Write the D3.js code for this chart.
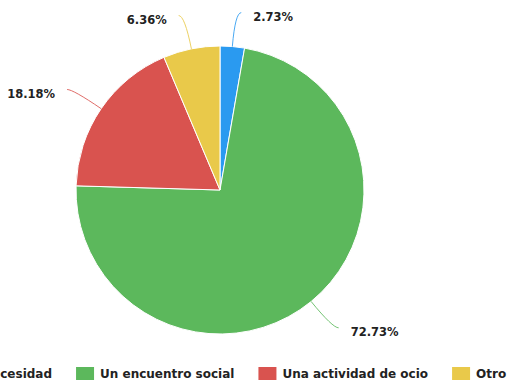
<!DOCTYPE html>
<html>
<head>
<meta charset="utf-8">
<script src="https://cdn.jsdelivr.net/npm/d3@7/dist/d3.min.js"></script>
<style>
  html, body { margin: 0; padding: 0; background: #fff; }
  svg { display: block; }
  text { font-family: "DejaVu Sans", Verdana, sans-serif; font-weight: bold; fill: #222; }
</style>
</head>
<body>
<svg id="chart" width="507" height="385"></svg>
<script>
// Answers and their share of responses (percent)
const categories = ["Una necesidad", "Un encuentro social", "Una actividad de ocio", "Otro:"];
const shares = [2.73, 72.73, 18.18, 6.36];
const colors = ["#2a9af0", "#5cb85c", "#d9534f", "#e9c94a"];

const W = 507, H = 385;
const cx = 220, cy = 190, radius = 144;

const svg = d3.select("#chart");

const data = categories.map((c, i) => ({ name: c, value: shares[i], color: colors[i] }));

const pie = d3.pie().value(d => d.value).sort(null);
const arcs = pie(data);
const arc = d3.arc().innerRadius(0).outerRadius(radius);

const g = svg.append("g").attr("transform", `translate(${cx},${cy})`);

g.selectAll("path.slice")
  .data(arcs)
  .join("path")
  .attr("class", "slice")
  .attr("d", arc)
  .attr("fill", d => d.data.color)
  .attr("stroke", "#fff")
  .attr("stroke-width", 1);

// Leader lines: radial segment then a short horizontal tail, smoothed
const lineOut = 34, tail = 6, textGap = 12;
arcs.forEach(d => {
  const a = (d.startAngle + d.endAngle) / 2;
  const sx = Math.sin(a), sy = -Math.cos(a);
  const side = sx >= 0 ? 1 : -1;
  const p0 = [sx * radius, sy * radius];
  const p1 = [sx * (radius + lineOut), sy * (radius + lineOut)];
  const p2 = [p1[0] + side * tail, p1[1]];
  g.append("path")
    .attr("d", `M${p0[0]},${p0[1]} Q${p1[0]},${p1[1]} ${p2[0]},${p2[1]}`)
    .attr("fill", "none")
    .attr("stroke", d.data.color)
    .attr("stroke-opacity", 0.85)
    .attr("stroke-width", 1);
  g.append("text")
    .attr("x", p2[0] + side * textGap)
    .attr("y", p2[1] + 4)
    .attr("dominant-baseline", "central")
    .attr("text-anchor", side > 0 ? "start" : "end")
    .style("font-size", "11.5px")
    .text(d3.format(".2f")(d.data.value) + "%");
});

// Legend row, centred under the pie
const sw = 18, sh = 13, swGap = 6, itemGap = 24, legendY = 367;
const legend = svg.append("g");
const items = legend.selectAll("g.item")
  .data(data)
  .join("g")
  .attr("class", "item");
items.append("rect")
  .attr("width", sw).attr("height", sh)
  .attr("fill", d => d.color);
items.append("text")
  .attr("x", sw + swGap)
  .attr("y", 11)
  .style("font-size", "12px")
  .text(d => d.name);

let x = 0;
items.each(function () {
  const w = sw + swGap + d3.select(this).select("text").node().getComputedTextLength();
  d3.select(this).attr("transform", `translate(${x},0)`);
  x += w + itemGap;
});
const totalW = x - itemGap;
legend.attr("transform", `translate(${cx - totalW / 2},${legendY})`);
</script>
</body>
</html>
